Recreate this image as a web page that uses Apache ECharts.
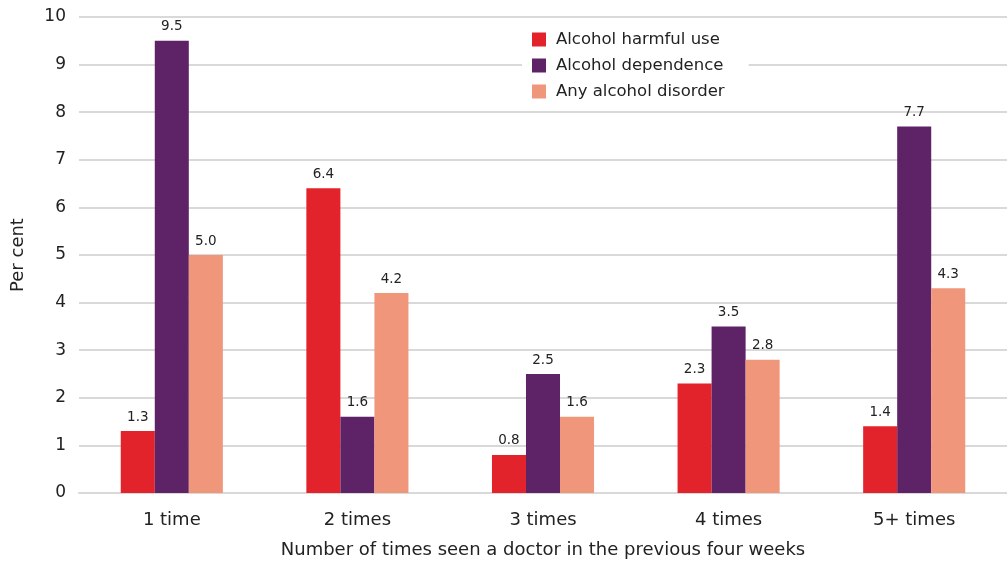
<!DOCTYPE html>
<html><head><meta charset="utf-8">
<script src="https://cdn.jsdelivr.net/npm/echarts@6/dist/echarts.min.js"></script>
<style>html,body{margin:0;padding:0;background:#fff}#c{width:1007px;height:561px}</style>
</head><body><div id="c"></div>
<script>
const categories = ['1 time','2 times','3 times','4 times','5+ times'];
const harmfulUse = [1.3, 6.4, 0.8, 2.3, 1.4];
const dependence = [9.5, 1.6, 2.5, 3.5, 7.7];
const anyDisorder = [5.0, 4.2, 1.6, 2.8, 4.3];
const yTicks = [0,1,2,3,4,5,6,7,8,9,10];

const font = '"DejaVu Sans", sans-serif';
const chart = echarts.init(document.getElementById('c'));
const lbl = {show:true, position:'top', color:'#222', fontSize:13.5, fontFamily:font, formatter: p => p.value.toFixed(1), distance:7};
chart.setOption({
  animation:false,
  textStyle:{fontFamily:font},
  grid:{left:79, right:0, top:17, bottom:68, outerBoundsMode:'none', containLabel:false},
  legend:{
    orient:'vertical', left:522, top:29, itemWidth:14, itemHeight:14, itemGap:9, icon:'rect',
    backgroundColor:'#fff', padding:[2,24,2,10],
    textStyle:{fontSize:16.5, color:'#222', fontFamily:font, padding:[0,0,0,5]},
    data:['Alcohol harmful use','Alcohol dependence','Any alcohol disorder']
  },
  xAxis:{
    type:'category', data:categories,
    axisLine:{lineStyle:{color:'#d9d9d9', width:2}},
    axisTick:{show:false},
    axisLabel:{fontSize:18, color:'#222', margin:18, fontFamily:font},
    name:'Number of times seen a doctor in the previous four weeks',
    nameLocation:'middle', nameGap:48,
    nameTextStyle:{fontSize:18, color:'#222', fontFamily:font}
  },
  yAxis:{
    type:'value', min:0, max:10, interval:1,
    axisLine:{show:false}, axisTick:{show:false},
    splitLine:{lineStyle:{color:'#d9d9d9', width:2}},
    axisLabel:{fontSize:17, color:'#222', margin:13, fontFamily:font, formatter: v => yTicks.includes(v) ? String(v) : ''},
    name:'Per cent', nameLocation:'middle', nameGap:52,
    nameTextStyle:{fontSize:18, color:'#222', fontFamily:font}
  },
  series:[
    {name:'Alcohol harmful use', type:'bar', data:harmfulUse, barGap:'0%', barCategoryGap:'45%', itemStyle:{color:'#e3232b'}, label:lbl, z:3},
    {name:'Alcohol dependence', type:'bar', data:dependence, itemStyle:{color:'#5e2366'}, label:lbl, z:3},
    {name:'Any alcohol disorder', type:'bar', data:anyDisorder, itemStyle:{color:'#f0967a'}, label:lbl, z:3}
  ]
});
</script></body></html>
